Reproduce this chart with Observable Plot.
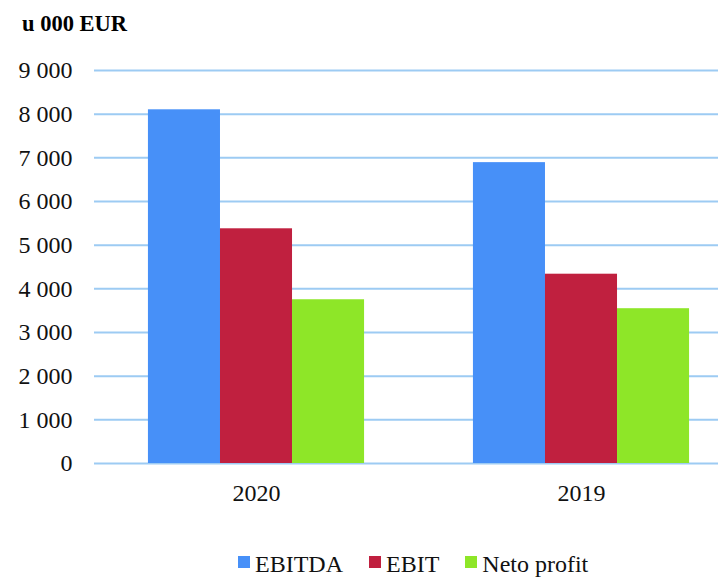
<!DOCTYPE html>
<html>
<head>
<meta charset="utf-8">
<script src="https://cdn.jsdelivr.net/npm/d3@7"></script>
<script src="https://cdn.jsdelivr.net/npm/@observablehq/plot@0.6"></script>
<style>
  body { margin: 0; background: #fff; width: 718px; height: 577px; position: relative; overflow: hidden; font-family: "Liberation Serif", Tinos, "Times New Roman", Times, "DejaVu Serif", serif; }
  #title { position: absolute; left: 22px; top: 13px; font-size: 22.5px; line-height: 22.5px; font-weight: bold; color: #000; }
  #chart { position: absolute; left: 0; top: 45px; }
  #legend { position: absolute; left: 238px; top: 552px; font-size: 24px; line-height: 24px; color: #111; white-space: nowrap; }
  #legend .item { display: inline-block; margin-right: 26px; }
  #legend .sw { display: inline-block; width: 12px; height: 12px; margin-right: 5px; vertical-align: 4px; }
  #chart svg text { font-family: "Liberation Serif", Tinos, "Times New Roman", Times, "DejaVu Serif", serif !important; }
</style>
</head>
<body>
<div id="title">u 000 EUR</div>
<div id="chart"></div>
<div id="legend"></div>
<script>
const years = ["2020", "2019"];
const series = ["EBITDA", "EBIT", "Neto profit"];
const colors = ["#4790F8", "#C0203F", "#8EE628"];
const ebitda = [8100, 6890];
const ebit = [5375, 4335];
const netoProfit = [3750, 3545];
const yTicks = [0, 1000, 2000, 3000, 4000, 5000, 6000, 7000, 8000, 9000];

const valuesBySeries = [ebitda, ebit, netoProfit];
const data = [];
series.forEach((s, si) => years.forEach((y, yi) => data.push({year: y, series: s, value: valuesBySeries[si][yi]})));

const fmt = d3.formatLocale({thousands: " ", grouping: [3], decimal: ","}).format(",");

const xRange = [93.5, 743.5];
const pInner = 0.335, pOuter = 0.1675;
const step = (xRange[1] - xRange[0]) / (years.length - pInner + 2 * pOuter);
const bw = step * (1 - pInner);
const sub = bw / series.length;

const fontStack = "'Liberation Serif', Tinos, 'Times New Roman', Times, 'DejaVu Serif', serif";

const marks = [
  Plot.ruleY(yTicks, {stroke: "#9DCBF3", strokeWidth: 2})
];
series.forEach((s, i) => {
  marks.push(Plot.barY(data.filter(d => d.series === s), {
    x: "year", y: "value", fill: "series",
    insetLeft: i * sub, insetRight: (series.length - 1 - i) * sub
  }));
});
marks.push(Plot.axisY(yTicks, {tickSize: 0, tickPadding: 22, tickFormat: fmt, fontSize: 24, fontFamily: fontStack, label: null, fill: "#111"}));
marks.push(Plot.axisX({tickSize: 0, tickPadding: 20, fontSize: 24, fontFamily: fontStack, label: null, fill: "#111"}));

const plot = Plot.plot({
  width: 718,
  height: 470,
  marginTop: 25,
  marginBottom: 52,
  marginLeft: 94,
  marginRight: 0,
  style: {fontFamily: fontStack, background: "#fff", overflow: "visible"},
  x: {domain: years, range: xRange, paddingInner: pInner, paddingOuter: pOuter, round: false},
  y: {domain: [0, 9000]},
  color: {domain: series, range: colors},
  marks
});
document.getElementById("chart").appendChild(plot);

const legend = document.getElementById("legend");
series.forEach((s, i) => {
  const item = document.createElement("span");
  item.className = "item";
  const sw = document.createElement("span");
  sw.className = "sw";
  sw.style.background = plot.scale("color").apply(s);
  item.appendChild(sw);
  item.appendChild(document.createTextNode(s));
  legend.appendChild(item);
});
</script>
</body>
</html>
